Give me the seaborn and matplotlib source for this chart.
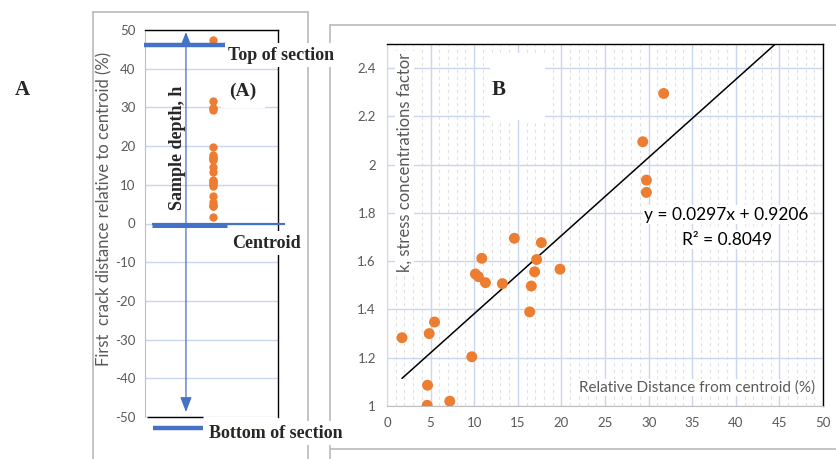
import numpy as np
import matplotlib
matplotlib.use("Agg")
import matplotlib.pyplot as plt
import matplotlib.transforms as mtransforms
from matplotlib.lines import Line2D
from matplotlib.patches import Rectangle
import seaborn as sns

# ---------------------------------------------------------------- data
# Panel A: position of the first crack, % of half-depth above the centroid
first_crack_pct = [47.4, 31.73, 29.75, 29.75, 29.33, 19.84, 17.7, 17.16, 16.93,
                   16.55, 16.36, 14.6, 13.23, 11.29, 10.87, 10.48, 10.14, 9.72,
                   7.2, 5.45, 4.84, 4.65, 4.61, 1.72]

# Panel B: relative distance from centroid (%) vs stress concentration factor k
rel_distance = [1.72, 4.84, 5.45, 4.65, 4.61, 7.2, 9.72, 10.14, 10.48, 10.87,
                11.29, 13.23, 14.6, 16.36, 16.55, 16.93, 17.16, 17.7, 19.84,
                31.73, 29.33, 29.75, 29.75]
k_factor = [1.283, 1.30, 1.348, 1.086, 1.003, 1.02, 1.204, 1.547, 1.536, 1.612,
            1.511, 1.507, 1.695, 1.39, 1.497, 1.556, 1.607, 1.677, 1.567,
            2.295, 2.095, 1.936, 1.885]

fit_label = "y = 0.0297x + 0.9206"
r2_label = "R² = 0.8049"

a_yticks = list(range(-50, 51, 10))
b_xticks = list(range(0, 51, 5))
b_yticks = [1.0, 1.2, 1.4, 1.6, 1.8, 2.0, 2.2, 2.4]
b_yticklabels = ["1", "1.2", "1.4", "1.6", "1.8", "2", "2.2", "2.4"]

# ---------------------------------------------------------------- style
sns.set_style("white")
plt.rcParams["font.family"] = ["Lato", "DejaVu Sans"]
plt.rcParams["axes.unicode_minus"] = False

ORANGE = "#ED7D31"
BLUE = "#4472C4"
GRID = "#c9d6ee"
MINOR = "#e2e2e2"
TXT = "#595959"
FRAME = "#bfbfbf"
SERIF = ["Liberation Serif", "DejaVu Serif"]

W, H = 836, 459
fig = plt.figure(figsize=(W / 100, H / 100), dpi=100)


def fx(px):
    return px / W


def fy(py):
    return 1 - py / H


def frame_line(x0, y0, x1, y1):
    fig.add_artist(Line2D([fx(x0), fx(x1)], [fy(y0), fy(y1)],
                          transform=fig.transFigure, color=FRAME, lw=1.3, zorder=0))


# outer chart boxes
frame_line(93, 12, 308, 12)
frame_line(93, 12, 93, 459)
frame_line(308, 12, 308, 459)
frame_line(330, 25, 836, 25)
frame_line(330, 25, 330, 459)
frame_line(330, 449, 836, 449)

# ---------------------------------------------------------------- panel A
ax_a = fig.add_axes([fx(145), fy(417), fx(278) - fx(145), fy(30) - fy(417)])
sns.stripplot(y=first_crack_pct, ax=ax_a, jitter=False, color=ORANGE,
              size=6, linewidth=0, zorder=4)
ax_a.set_xlim(-1.02, 0.98)
ax_a.set_ylim(-50, 50)
ax_a.set_xticks([])
ax_a.set_yticks(a_yticks)
ax_a.set_yticks(np.arange(-50, 51, 2), minor=True)
ax_a.tick_params(axis="y", which="major", direction="out", length=5,
                 color=FRAME, labelcolor=TXT, labelsize=9.5, pad=2)
ax_a.tick_params(axis="y", which="minor", direction="in", length=3, color=FRAME)
ax_a.yaxis.grid(True, which="major", color=GRID, lw=1)
ax_a.xaxis.grid(False)
ax_a.set_axisbelow(True)
ax_a.spines["left"].set_color(FRAME)
ax_a.spines["bottom"].set_visible(False)
for s in ("top", "right"):
    ax_a.spines[s].set_color("black")
    ax_a.spines[s].set_linewidth(1)
ax_a.set_ylabel("First  crack distance relative to centroid (%)", color=TXT,
                fontsize=12)
ax_a.yaxis.set_label_coords(-0.245, 0.537)

blend_a = mtransforms.blended_transform_factory(ax_a.transAxes, ax_a.transData)


def a_line(x0, x1, y, lw, color=BLUE):
    ax_a.add_line(Line2D([x0, x1], [y, y], transform=blend_a, color=color,
                         lw=lw, clip_on=False, solid_capstyle="butt", zorder=5))


a_line(-0.01, 0.61, 46.1, 3.2)          # top of section
a_line(0.05, 1.05, 0.0, 1.6)            # centroid axis
a_line(0.05, 0.62, -0.3, 3.6)           # centroid bar
a_line(0.015, 0.436, -50.0, 1.0, "black")
a_line(0.06, 0.436, -52.9, 3.2)         # bottom of section

ax_a.annotate("", xy=(0.308, -48.7), xytext=(0.308, 49.5),
              xycoords=blend_a, textcoords=blend_a,
              arrowprops=dict(arrowstyle="<|-|>,head_length=0.9,head_width=0.35",
                              color=BLUE, lw=0.9, mutation_scale=10,
                              shrinkA=0, shrinkB=0), zorder=5)

box = dict(facecolor="white", edgecolor="none", pad=2.5)
fig.text(fx(281), fy(55), "Top of section", family=SERIF, weight="bold",
         fontsize=13, ha="center", va="center", bbox=box, zorder=6)
fig.text(fx(243), fy(91), "(A)", family=SERIF, weight="bold",
         fontsize=14, ha="center", va="center",
         bbox=dict(facecolor="white", edgecolor="none", pad=6), zorder=6)
fig.text(fx(266), fy(243), "Centroid", family=SERIF, weight="bold",
         fontsize=13, ha="center", va="center", bbox=box, zorder=6)
fig.text(fx(276), fy(433), "Bottom of section", family=SERIF, weight="bold",
         fontsize=13, ha="center", va="center", bbox=box, zorder=6)
fig.text(fx(178), fy(148), "Sample depth, h", family=SERIF, weight="bold",
         fontsize=13, ha="center", va="center", rotation=90, zorder=6)
fig.text(fx(22), fy(90), "A", family=SERIF, weight="bold",
         fontsize=15, ha="center", va="center")

# ---------------------------------------------------------------- panel B
ax_b = fig.add_axes([fx(387), fy(406), fx(823) - fx(387), fy(44) - fy(406)])
sns.scatterplot(x=rel_distance, y=k_factor, ax=ax_b, color=ORANGE, s=62,
                edgecolor="none", zorder=4)

coef = np.polyfit(rel_distance, k_factor, 1)
x_fit = np.array([min(rel_distance), 50.0])
ax_b.plot(x_fit, np.polyval(coef, x_fit), color="black", lw=1.1, zorder=3)

ax_b.set_xlim(0, 50)
ax_b.set_ylim(1.0, 2.5)
ax_b.set_xticks(b_xticks)
ax_b.set_xticks(np.arange(0, 51, 1), minor=True)
ax_b.set_yticks(b_yticks)
ax_b.set_yticklabels(b_yticklabels)
ax_b.tick_params(axis="both", which="major", direction="out", length=5,
                 color=FRAME, labelcolor=TXT, labelsize=9.5, pad=3)
ax_b.tick_params(axis="x", which="minor", length=0)
ax_b.grid(True, which="major", color=GRID, lw=1)
ax_b.xaxis.grid(True, which="minor", color=MINOR, lw=0.8, ls=(0, (3, 3)))
ax_b.set_axisbelow(True)
ax_b.spines["left"].set_color("#d9d9d9")
ax_b.spines["bottom"].set_color(FRAME)
for s in ("top", "right"):
    ax_b.spines[s].set_color("black")
    ax_b.spines[s].set_linewidth(1)

ax_b.set_ylabel("k, stress concentrations factor", color=TXT, fontsize=12)
ax_b.yaxis.set_label_coords(0.058, 0.674)
ax_b.yaxis.label.set_bbox(dict(facecolor="white", edgecolor="none", pad=1))
ax_b.set_xlabel("Relative Distance from centroid (%)", color=TXT, fontsize=11)
ax_b.xaxis.set_label_coords(0.712, 0.07)
ax_b.xaxis.label.set_bbox(dict(facecolor="white", edgecolor="none", pad=1))

ax_b.add_patch(Rectangle((0.236, 0.79), 0.126, 0.185, transform=ax_b.transAxes,
                         facecolor="white", edgecolor="none", zorder=2))
ax_b.text(0.257, 0.873, "B", transform=ax_b.transAxes, family=SERIF,
          weight="bold", fontsize=15, ha="center", va="center", zorder=5)

eq_box = dict(facecolor="white", edgecolor="none", pad=1)
ax_b.text(0.779, 0.528, fit_label, transform=ax_b.transAxes, fontsize=12.5,
          ha="center", va="center", color="black", bbox=eq_box, zorder=5)
ax_b.text(0.781, 0.459, r2_label, transform=ax_b.transAxes, fontsize=12.5,
          ha="center", va="center", color="black", bbox=eq_box, zorder=5)

fig.savefig("out.png", dpi=100)
